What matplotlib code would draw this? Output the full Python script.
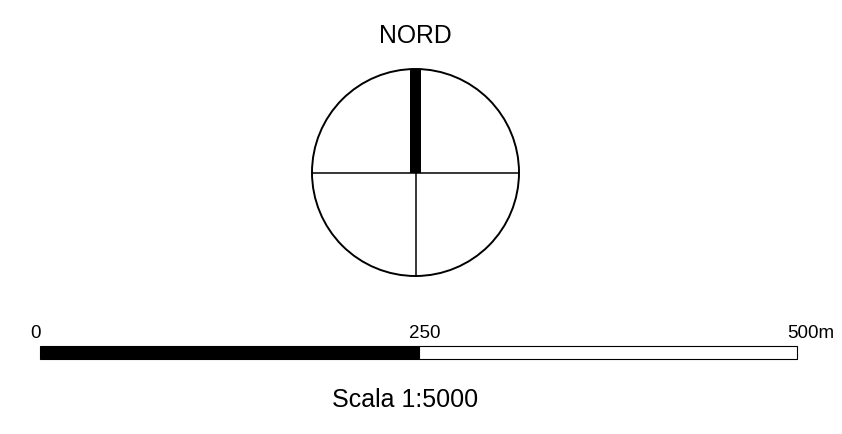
import matplotlib
matplotlib.use("Agg")
import matplotlib.pyplot as plt
from matplotlib.patches import Circle, Rectangle

# Scale bar: segment boundaries in metres and the fill of each segment
SCALE_TICKS = [0, 250, 500]
SCALE_UNIT = "m"
SEGMENT_FILLS = ["black", "white"]

NORTH_LABEL = "NORD"
SCALE_TEXT = "Scala 1:5000"

# Layout in pixel coordinates (figure is 842 x 434 px)
W, H = 842, 434
CX, CY, R = 415.5, 172.5, 103.5
NEEDLE_W = 10.5
BAR_X0, BAR_X1 = 40, 797
BAR_Y, BAR_H = 346, 13

plt.rcParams["font.family"] = ["Liberation Sans", "DejaVu Sans"]

fig = plt.figure(figsize=(W / 100, H / 100), dpi=100, facecolor="white")
ax = fig.add_axes([0, 0, 1, 1])
ax.set_xlim(0, W)
ax.set_ylim(H, 0)
ax.set_aspect("equal")
ax.axis("off")

# North arrow: circle, cross, thick needle to the north
ax.add_patch(Circle((CX, CY), R, fill=False, edgecolor="black", lw=1.4))
ax.plot([CX - R, CX + R], [CY, CY], color="black", lw=1.1)
ax.plot([CX, CX], [CY, CY + R], color="black", lw=1.1)
ax.add_patch(Rectangle((CX - NEEDLE_W / 2, CY - R), NEEDLE_W, R,
                       facecolor="black", edgecolor="none"))
ax.text(CX, 43, NORTH_LABEL, ha="center", va="baseline", fontsize=17.8)

# Scale bar
px_per_m = (BAR_X1 - BAR_X0) / (SCALE_TICKS[-1] - SCALE_TICKS[0])


def to_px(m):
    return BAR_X0 + (m - SCALE_TICKS[0]) * px_per_m


for (a, b), fill in zip(zip(SCALE_TICKS[:-1], SCALE_TICKS[1:]), SEGMENT_FILLS):
    ax.add_patch(Rectangle((to_px(a), BAR_Y), to_px(b) - to_px(a), BAR_H,
                           facecolor=fill, edgecolor="black", lw=0.8))

for i, t in enumerate(SCALE_TICKS):
    label = f"{t}" + (SCALE_UNIT if i == len(SCALE_TICKS) - 1 else "")
    ax.text(to_px(t) - 10, 338, label, ha="left", va="baseline", fontsize=13.5)

ax.text(332, 407, SCALE_TEXT, ha="left", va="baseline", fontsize=18)

fig.savefig("out.png", dpi=100, facecolor="white")
